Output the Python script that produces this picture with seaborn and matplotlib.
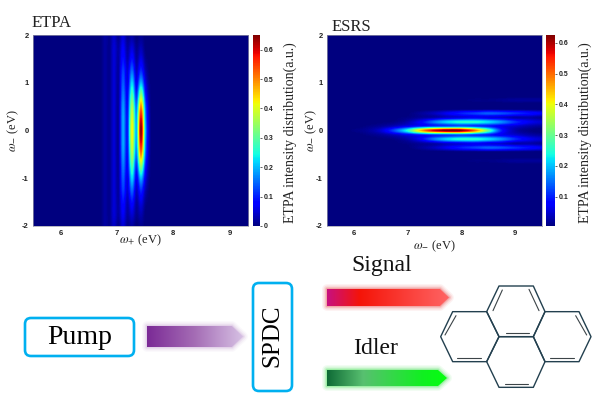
import numpy as np
import pandas as pd
import seaborn as sns
import matplotlib.pyplot as plt
from matplotlib.colors import LinearSegmentedColormap
from matplotlib.patches import FancyBboxPatch, Polygon

# values
x_ticks = [6, 7, 8, 9]
y_ticks = [2, 1, 0, -1, -2]
cbar_ticks_etpa = [0, 0.1, 0.2, 0.3, 0.4, 0.5, 0.6]
cbar_ticks_esrs = [0.1, 0.2, 0.3, 0.4, 0.5, 0.6]

# ETPA: fringes along omega+, only the non zero columns
etpa_x = [6.75, 6.8333, 6.9167, 7.0, 7.0833, 7.1667, 7.25, 7.3333, 7.4167, 7.5, 7.5833, 7.6667]
etpa_y = [0, 0.25, 0.5, 0.75, 1.0, 1.25, 1.5, 1.75, 2.0]
etpa_6_75 = [0.00, 0.00, 0.00, 0.00, 0.00, 0.00, 0.00, 0.00, 0.00]
etpa_6_83 = [0.02, 0.02, 0.02, 0.02, 0.02, 0.02, 0.02, 0.02, 0.02]
etpa_6_92 = [0.01, 0.01, 0.01, 0.01, 0.01, 0.01, 0.01, 0.01, 0.01]
etpa_7_00 = [0.05, 0.05, 0.05, 0.05, 0.05, 0.05, 0.05, 0.05, 0.04]
etpa_7_08 = [0.02, 0.02, 0.02, 0.02, 0.02, 0.02, 0.02, 0.02, 0.01]
etpa_7_17 = [0.19, 0.19, 0.18, 0.16, 0.14, 0.12, 0.09, 0.07, 0.05]
etpa_7_25 = [0.10, 0.10, 0.09, 0.08, 0.06, 0.05, 0.03, 0.02, 0.01]
etpa_7_33 = [0.42, 0.40, 0.36, 0.29, 0.22, 0.15, 0.09, 0.05, 0.02]
etpa_7_42 = [0.20, 0.19, 0.16, 0.11, 0.07, 0.04, 0.02, 0.01, 0.00]
etpa_7_50 = [0.65, 0.60, 0.50, 0.34, 0.20, 0.11, 0.06, 0.03, 0.01]
etpa_7_58 = [0.20, 0.18, 0.15, 0.10, 0.06, 0.03, 0.01, 0.00, 0.00]
etpa_7_67 = [0.02, 0.02, 0.015, 0.01, 0.005, 0.00, 0.00, 0.00, 0.00]

# ESRS: fringes along omega-, only the non zero rows
esrs_x = [5.5, 5.75, 6.0, 6.25, 6.5, 6.75, 7.0, 7.25, 7.5, 7.75, 8.0, 8.25, 8.5, 8.75, 9.0, 9.25, 9.5]
esrs_y = [0, 0.0909, 0.1818, 0.2727, 0.3636, 0.4545, 0.5455, 0.6364, 0.7273]
esrs_0 = [0, 0, 0.01, 0.02, 0.05, 0.13, 0.25, 0.45, 0.58, 0.63, 0.62, 0.50, 0.30, 0.10, 0.03, 0.01, 0]
esrs_1 = [0, 0, 0, 0.01, 0.02, 0.04, 0.07, 0.10, 0.12, 0.13, 0.14, 0.12, 0.10, 0.07, 0.05, 0.03, 0.02]
esrs_2 = [0, 0, 0, 0, 0.005, 0.01, 0.03, 0.08, 0.16, 0.22, 0.25, 0.25, 0.22, 0.17, 0.11, 0.07, 0.05]
esrs_3 = [0, 0, 0, 0, 0, 0.005, 0.01, 0.02, 0.03, 0.05, 0.06, 0.07, 0.06, 0.05, 0.03, 0.03, 0.02]
esrs_4 = [0, 0, 0, 0, 0, 0, 0.005, 0.02, 0.04, 0.07, 0.10, 0.12, 0.14, 0.13, 0.11, 0.09, 0.07]
esrs_5 = [0, 0, 0, 0, 0, 0, 0, 0.005, 0.01, 0.01, 0.02, 0.02, 0.02, 0.02, 0.02, 0.02, 0.01]
esrs_6 = [0, 0, 0, 0, 0, 0, 0, 0.005, 0.01, 0.02, 0.03, 0.05, 0.07, 0.07, 0.06, 0.06, 0.05]
esrs_7 = [0, 0, 0, 0, 0, 0, 0, 0, 0, 0, 0.005, 0.01, 0.01, 0.015, 0.02, 0.02, 0.02]
esrs_8 = [0, 0, 0, 0, 0, 0, 0, 0, 0, 0, 0, 0, 0, 0, 0, 0, 0]

sns.set_theme(style='white')
plt.rcParams['font.family'] = ['Liberation Serif', 'DejaVu Serif']
plt.rcParams['mathtext.fontset'] = 'stix'

W, H = 595, 401
fig = plt.figure(figsize=(W / 100, H / 100), dpi=100)


def box(x0, y0, x1, y1):
    return [x0 / W, 1 - y1 / H, (x1 - x0) / W, (y1 - y0) / H]


# ETPA table on its full grid
etpa_half = pd.DataFrame(np.array([etpa_6_75, etpa_6_83, etpa_6_92, etpa_7_00, etpa_7_08, etpa_7_17,
                                   etpa_7_25, etpa_7_33, etpa_7_42, etpa_7_50, etpa_7_58, etpa_7_67]).T,
                         index=etpa_y, columns=np.round(etpa_x, 2))
etpa_all_x = np.round(5.5 + np.arange(49) / 12, 2)
etpa_half = etpa_half.reindex(columns=etpa_all_x, fill_value=0.0)
etpa_df = pd.concat([etpa_half.iloc[::-1], etpa_half.iloc[1:].set_axis(-etpa_half.index[1:])])

# ESRS table on its full grid
esrs_rows = np.array([esrs_0, esrs_1, esrs_2, esrs_3, esrs_4, esrs_5, esrs_6, esrs_7, esrs_8])
esrs_half = pd.DataFrame(esrs_rows, index=np.round(esrs_y, 3), columns=esrs_x)
esrs_all_y = np.round(np.arange(23) * 2 / 22, 3)
esrs_half = esrs_half.reindex(esrs_all_y, fill_value=0.0)
esrs_df = pd.concat([esrs_half.iloc[::-1], esrs_half.iloc[1:].set_axis(-esrs_half.index[1:])])


def panel(df, ax_box, cax_box, vmin, vmax, cticks, xlabel, xpad, ypad, cpad):
    ax = fig.add_axes(box(*ax_box))
    cax = fig.add_axes(box(*cax_box))
    sns.heatmap(df, ax=ax, cbar_ax=cax, cmap='jet', vmin=vmin, vmax=vmax,
                xticklabels=False, yticklabels=False, cbar_kws={'ticks': cticks})
    ny, nx = df.shape
    # the mesh is blocky, same table again with smoothing on top
    ax.imshow(df.values, cmap='jet', vmin=vmin, vmax=vmax, extent=(0, nx, ny, 0),
              interpolation='catrom', aspect='auto', zorder=3)
    ax.set_xlim(0.5, nx - 0.5)
    ax.set_ylim(ny - 0.5, 0.5)
    xv = df.columns.values
    yv = df.index.values
    ax.set_xticks([(t - xv[0]) / (xv[1] - xv[0]) + 0.5 for t in x_ticks])
    ax.set_xticklabels(x_ticks, fontsize=5.5, fontweight='bold', family='Liberation Sans')
    ax.set_yticks([(yv[0] - t) / (yv[0] - yv[1]) + 0.5 for t in y_ticks])
    ax.set_yticklabels(y_ticks, fontsize=5.5, fontweight='bold', family='Liberation Sans', rotation=0)
    ax.tick_params(length=0, pad=3, colors='#222222')
    ax.set_xlabel(xlabel, fontsize=9, labelpad=xpad, color='#222222')
    ax.set_ylabel(r'$\omega_{-}$ (eV)', fontsize=9, labelpad=ypad, color='#222222')
    for s in ax.spines.values():
        s.set_visible(True)
        s.set_color('#9a9aaa')
        s.set_linewidth(0.5)
        s.set_zorder(4)
    cax.set_yticklabels([f'{t:g}' for t in cticks], fontsize=5, fontweight='bold', family='Liberation Sans')
    cax.tick_params(length=1.5, width=0.5, pad=1.5, colors='#222222')
    cax.set_ylabel('ETPA intensity distribution(a.u.)', fontsize=10, labelpad=cpad, color='#222222', y=0.487)


panel(etpa_df, (33, 35, 248.5, 226), (252.5, 35, 260, 226), 0, 0.65, cbar_ticks_etpa,
      r'$\omega_{+}$ (eV)', -3, 1, 7)
panel(esrs_df, (327, 35, 542, 226), (546, 35, 555, 226), 0.005, 0.625, cbar_ticks_esrs,
      r'$\omega_{-}$ (eV)', 1, -2, 7)

# lower part of the figure, drawn in pixel coordinates
ov = fig.add_axes([0, 0, 1, 1], zorder=5)
ov.patch.set_alpha(0)
ov.axis('off')

ov.text(32, 27, 'ETPA', fontsize=12, color='#222222')
ov.text(332, 31, 'ESRS', fontsize=12, color='#222222')


def arrow(x0, x1, head, y0, y1, colors, glow):
    ym = (y0 + y1) / 2
    pts = [(x0, y0), (head, y0), (x1, ym), (head, y1), (x0, y1)]
    for lw, a in [(7, 0.08), (5, 0.12), (3, 0.18), (1.5, 0.25)]:
        ov.add_patch(Polygon(pts, closed=True, facecolor='none', edgecolor=glow, lw=lw, alpha=a, joinstyle='round'))
    cm = LinearSegmentedColormap.from_list('arrow', colors)
    grad = np.linspace(0, 1, 256).reshape(1, -1)
    im = ov.imshow(grad, cmap=cm, extent=(x0, x1, y1, y0), aspect='auto', zorder=3)
    clip = Polygon(pts, closed=True, transform=ov.transData)
    im.set_clip_path(clip)


arrow(147, 243, 232, 326, 347, ['#7B2A96', '#A56DB5', '#D6C0E4'], '#C9A6D6')
arrow(327, 449, 440, 289, 306, [(0, '#C8107F'), (0.27, '#F51408'), (1, '#FF6464')], '#E85050')
arrow(327, 447, 438, 370, 386, [(0, '#0F6B36'), (0.3, '#58C070'), (0.8, '#10F020'), (1, '#05FF0F')], '#40E050')

ov.add_patch(FancyBboxPatch((28, 321), 103, 32, boxstyle='round,pad=3,rounding_size=6',
                            facecolor='white', edgecolor='#00B0F0', lw=1.9))
ov.add_patch(FancyBboxPatch((256, 286), 33, 102, boxstyle='round,pad=3,rounding_size=6',
                            facecolor='white', edgecolor='#00B0F0', lw=1.9))
ov.text(79.5, 338, 'Pump', fontsize=20, ha='center', va='center', color='black')
ov.text(272, 336, 'SPDC', fontsize=18, rotation=90, ha='center', va='center', color='black')
ov.text(382, 266, 'Signal', fontsize=17, ha='center', va='center', color='#111111')
ov.text(376, 349, 'Idler', fontsize=17, ha='center', va='center', color='#111111')

# pyrene, coordinates from the 3x crop
rings = [
    [(612, 108), (715, 108), (750, 185), (715, 260), (612, 260), (575, 185)],
    [(473, 185), (575, 185), (612, 260), (575, 335), (473, 335), (437, 260)],
    [(750, 185), (852, 185), (888, 260), (852, 335), (750, 335), (715, 260)],
    [(612, 260), (715, 260), (750, 335), (715, 412), (612, 412), (575, 335)],
]
inner = [
    [(622, 120), (594, 182)], [(702, 118), (732, 182)], [(632, 248), (702, 248)],
    [(483, 197), (450, 255)], [(487, 323), (558, 323)], [(842, 197), (875, 255)],
    [(765, 323), (836, 323)], [(630, 402), (700, 402)],
]
for r in rings:
    pts = [(295 + a / 3, 250 + b / 3) for a, b in r]
    ov.add_patch(Polygon(pts, closed=True, facecolor='none', edgecolor='#23404F', lw=1.0, joinstyle='round'))
for (a, b), (c, d) in inner:
    ov.plot([295 + a / 3, 295 + c / 3], [250 + b / 3, 250 + d / 3], color='#3c4448', lw=0.8)

ov.set_xlim(0, W)
ov.set_ylim(H, 0)

fig.savefig('out.png', dpi=100)
